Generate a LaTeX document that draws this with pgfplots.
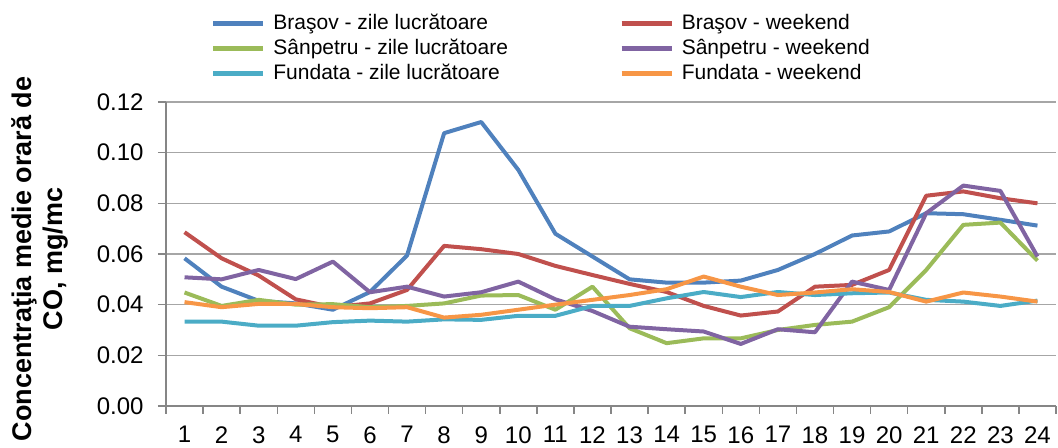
\documentclass[border=0pt]{standalone}
\usepackage{pgfplots}
\pgfplotsset{compat=1.18}
\usepackage{fontspec}
\setmainfont{Liberation Sans}
\definecolor{cBlue}{HTML}{4F81BD}
\definecolor{cRed}{HTML}{C0504D}
\definecolor{cGreen}{HTML}{9BBB59}
\definecolor{cPurple}{HTML}{8064A2}
\definecolor{cTeal}{HTML}{4BACC6}
\definecolor{cOrange}{HTML}{F79646}
\definecolor{cGrid}{HTML}{A6A6A6}
\definecolor{cAxis}{HTML}{868686}
\begin{document}
\begin{tikzpicture}
\begin{axis}[
  scale only axis,
  width=445pt, height=152pt,
  xmin=0.5, xmax=24.5, ymin=0, ymax=0.12,
  axis lines=left,
  axis line style={-, draw=cAxis, line width=0.75pt},
  every outer x axis line/.append style={-},
  every outer y axis line/.append style={-},
  xtick={1,...,24},
  minor xtick={0.5,1.5,...,24.5},
  ytick={0,0.02,...,0.12},
  tick align=outside,
  major tick length=4pt, minor tick length=4pt,
  major x tick style={draw=none},
  minor x tick style={draw=cAxis, line width=0.75pt},
  major y tick style={draw=cAxis, line width=0.75pt},
  ymajorgrids,
  major grid style={draw=cGrid, line width=0.75pt},
  /pgf/number format/assume math mode=true,
  yticklabel={\pgfmathprintnumber[fixed, fixed zerofill, precision=2]{\tick}},
  scaled y ticks=false,
  tick label style={font=\fontsize{12}{14}\selectfont},
  yticklabel style={inner sep=0pt, anchor=east, xshift=-7pt},
  xticklabel style={inner sep=0pt, anchor=north, yshift=-6pt},
  ylabel={Concentraţia medie orară de\\CO, mg/mc},
  ylabel style={at={(axis description cs:-0.1416,0.4836)}, anchor=center, align=center, font=\bfseries\fontsize{13.5}{15.5}\selectfont},
  legend columns=2,
  legend style={draw=none, fill=none, inner sep=0pt, outer sep=0pt, row sep=0pt,
    at={(rel axis cs:0,1)}, anchor=south west, xshift=22.5pt, yshift=7.75pt,
    font=\fontsize{10.5}{12.5}\selectfont,
    nodes={inner sep=0pt, text height=9pt, text depth=3.5pt, anchor=base west},
    /tikz/every odd column/.append style={column sep=4pt}},
  legend image code/.code={\draw[#1, line width=2.2pt] (0pt,3pt) -- (25pt,3pt);},
  every axis plot/.append style={line width=2pt, line join=round, mark=none},
]
\addplot[cBlue] coordinates {(1,0.0583)(2,0.0471)(3,0.0415)(4,0.0405)(5,0.038)(6,0.045)(7,0.0594)(8,0.1077)(9,0.1121)(10,0.0932)(11,0.068)(12,0.059)(13,0.050)(14,0.0487)(15,0.0487)(16,0.0495)(17,0.0537)(18,0.060)(19,0.0673)(20,0.0689)(21,0.0761)(22,0.0757)(23,0.0735)(24,0.0712)};
\addlegendentry{\makebox[173pt][l]{Braşov - zile lucrătoare}}
\addplot[cRed] coordinates {(1,0.0686)(2,0.0583)(3,0.0515)(4,0.0421)(5,0.039)(6,0.0405)(7,0.0458)(8,0.0632)(9,0.0619)(10,0.060)(11,0.0553)(12,0.0517)(13,0.0482)(14,0.045)(15,0.0395)(16,0.0357)(17,0.0373)(18,0.0471)(19,0.0478)(20,0.0537)(21,0.083)(22,0.0847)(23,0.082)(24,0.080)};
\addlegendentry{Braşov - weekend}
\addplot[cGreen] coordinates {(1,0.0448)(2,0.0395)(3,0.0419)(4,0.040)(5,0.0402)(6,0.039)(7,0.0395)(8,0.0405)(9,0.0436)(10,0.0438)(11,0.038)(12,0.0471)(13,0.0307)(14,0.0248)(15,0.0267)(16,0.0267)(17,0.030)(18,0.032)(19,0.0333)(20,0.039)(21,0.0537)(22,0.0715)(23,0.0724)(24,0.0574)};
\addlegendentry{\makebox[173pt][l]{Sânpetru - zile lucrătoare}}
\addplot[cPurple] coordinates {(1,0.0508)(2,0.050)(3,0.0537)(4,0.0501)(5,0.057)(6,0.0449)(7,0.0471)(8,0.0432)(9,0.0449)(10,0.0491)(11,0.0421)(12,0.0375)(13,0.0313)(14,0.0303)(15,0.0294)(16,0.0245)(17,0.0303)(18,0.0291)(19,0.0491)(20,0.0458)(21,0.0761)(22,0.087)(23,0.0849)(24,0.059)};
\addlegendentry{Sânpetru - weekend}
\addplot[cTeal] coordinates {(1,0.0333)(2,0.0333)(3,0.0317)(4,0.0317)(5,0.0331)(6,0.0337)(7,0.0333)(8,0.0342)(9,0.034)(10,0.0356)(11,0.0356)(12,0.0395)(13,0.0395)(14,0.0425)(15,0.045)(16,0.043)(17,0.045)(18,0.0438)(19,0.0445)(20,0.0448)(21,0.0419)(22,0.0412)(23,0.0395)(24,0.0416)};
\addlegendentry{\makebox[173pt][l]{Fundata - zile lucrătoare}}
\addplot[cOrange] coordinates {(1,0.041)(2,0.039)(3,0.0403)(4,0.0403)(5,0.039)(6,0.0386)(7,0.039)(8,0.0349)(9,0.036)(10,0.038)(11,0.040)(12,0.0419)(13,0.0438)(14,0.0461)(15,0.0511)(16,0.0471)(17,0.0438)(18,0.0448)(19,0.0461)(20,0.045)(21,0.0412)(22,0.0448)(23,0.0432)(24,0.0412)};
\addlegendentry{Fundata - weekend}
\end{axis}
\pgfresetboundingbox
\path (-83pt,-21pt) rectangle (446pt,203pt);
\end{tikzpicture}
\end{document}
